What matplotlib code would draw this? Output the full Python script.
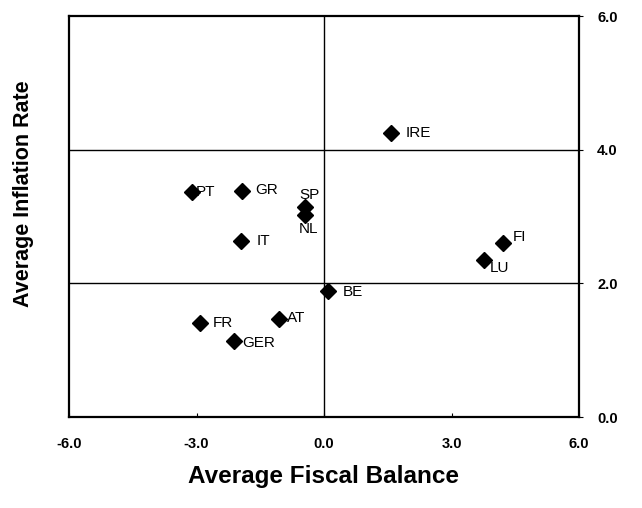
import matplotlib
matplotlib.use('Agg')
import matplotlib.pyplot as plt

plt.rcParams['font.family'] = ['Liberation Sans', 'DejaVu Sans']

countries = ['IRE', 'PT', 'GR', 'SP', 'NL', 'IT', 'FI', 'LU', 'BE', 'AT', 'FR', 'GER']
fiscal = [1.57, -3.11, -1.92, -0.45, -0.45, -1.95, 4.22, 3.76, 0.10, -1.05, -2.92, -2.12]
inflation = [4.25, 3.37, 3.38, 3.14, 3.03, 2.63, 2.61, 2.35, 1.89, 1.46, 1.40, 1.14]
# label offsets in pixels (dx, dy)
offsets = [(15, 0), (4, 0), (13, 1), (-6, 12), (-6, -14), (15, 0),
           (9, 6), (6, -8), (14, -1), (8, 1), (13, 0), (8, -2)]

xticks = [-6, -3, 0, 3, 6]
yticks = [0, 2, 4, 6]
hlines = [2, 4]

fig = plt.figure(figsize=(6.42, 5.08), dpi=100)
ax = fig.add_axes([0.1075, 0.179, 0.7945, 0.7895])

for y in hlines:
    ax.axhline(y, color='black', lw=1.0, zorder=1)
ax.axvline(0, color='black', lw=1.0, zorder=1)

ax.plot(fiscal, inflation, 'D', color='black', ms=8.5, zorder=3, linestyle='none')

for name, x, y, (dx, dy) in zip(countries, fiscal, inflation, offsets):
    ax.annotate(name, (x, y), xytext=(dx * 0.72, dy * 0.72), textcoords='offset points',
                ha='left', va='center', fontsize=11)

ax.set_xlim(-6, 6)
ax.set_ylim(0, 6)
ax.set_xticks(xticks)
ax.set_xticklabels(['%.1f' % v for v in xticks], fontsize=10.5, fontweight='bold')
ax.set_yticks(yticks)
ax.set_yticklabels(['%.1f' % v for v in yticks], fontsize=10.5, fontweight='bold')
ax.yaxis.tick_right()
ax.tick_params(axis='x', direction='in', length=3, pad=14)
ax.tick_params(axis='y', direction='out', length=3, pad=10)

for s in ax.spines.values():
    s.set_linewidth(1.6)
    s.set_color('black')

fig.text(324 / 642, 1 - 477 / 508, 'Average Fiscal Balance', ha='center', va='center',
         fontsize=17.5, fontweight='bold')
fig.text(24 / 642, 1 - 194 / 508, 'Average Inflation Rate', ha='center', va='center',
         fontsize=15.5, fontweight='bold', rotation=90)

fig.savefig('out.png', dpi=100)
